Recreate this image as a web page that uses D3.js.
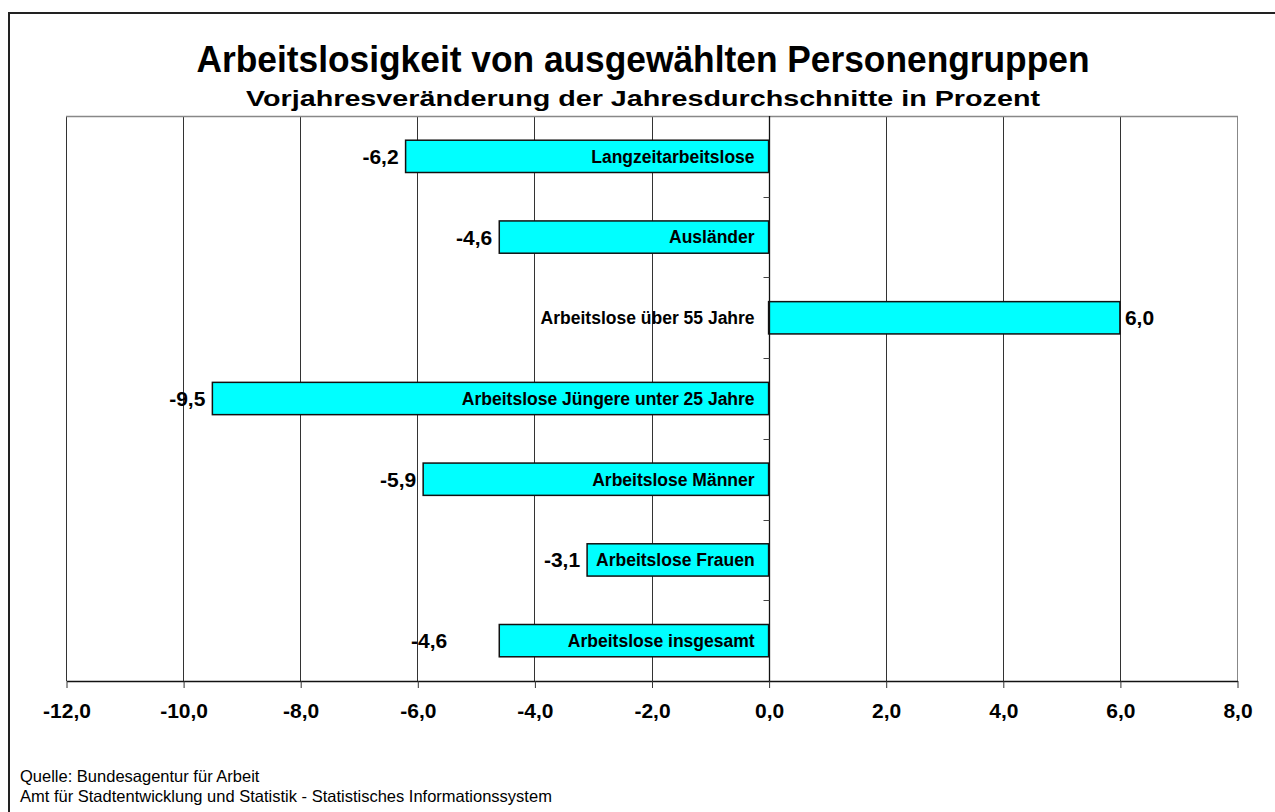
<!DOCTYPE html>
<html>
<head>
<meta charset="utf-8">
<script src="https://cdn.jsdelivr.net/npm/d3@7"></script>
<style>
  body { margin: 0; background: #fff; }
  svg { display: block; font-family: "Liberation Sans", Arial, sans-serif; }
</style>
</head>
<body>
<svg id="chart" width="1275" height="812"></svg>
<script>
// categories top to bottom, values = change vs previous year in percent
const categories = [
  'Langzeitarbeitslose',
  'Ausländer',
  'Arbeitslose über 55 Jahre',
  'Arbeitslose Jüngere unter 25 Jahre',
  'Arbeitslose Männer',
  'Arbeitslose Frauen',
  'Arbeitslose insgesamt'
];
const values = [-6.2, -4.6, 6.0, -9.5, -5.9, -3.1, -4.6];
const xTicks = [-12, -10, -8, -6, -4, -2, 0, 2, 4, 6, 8];

const title = 'Arbeitslosigkeit von ausgewählten Personengruppen';
const subtitle = 'Vorjahresveränderung der Jahresdurchschnitte in Prozent';
const footer = [
  'Quelle: Bundesagentur für Arbeit',
  'Amt für Stadtentwicklung und Statistik - Statistisches Informationssystem'
];

const fmt = v => d3.format('.1f')(v).replace('.', ',').replace('−', '-');

const svg = d3.select('#chart');
const m = { left: 66, right: 1237, top: 116, bottom: 681 };

// outer frame
svg.append('path')
  .attr('d', 'M9,813 V13 H1276')
  .attr('fill', 'none')
  .attr('stroke', '#222')
  .attr('stroke-width', 2);

svg.append('text')
  .attr('x', 643).attr('y', 72)
  .attr('text-anchor', 'middle')
  .attr('font-size', 36).attr('font-weight', 'bold')
  .attr('textLength', 893).attr('lengthAdjust', 'spacingAndGlyphs')
  .text(title);
svg.append('text')
  .attr('x', 643).attr('y', 106)
  .attr('text-anchor', 'middle')
  .attr('font-size', 22).attr('font-weight', 'bold')
  .attr('textLength', 794).attr('lengthAdjust', 'spacingAndGlyphs')
  .text(subtitle);

const x = d3.scaleLinear().domain([-12, 8]).range([m.left, m.right]);
const y = d3.scaleBand().domain(categories).range([m.top, m.bottom]).paddingInner(0.6).paddingOuter(0.3);
const yb = d3.scaleBand().domain(categories).range([m.top, m.bottom]);

// gridlines
svg.append('g')
  .selectAll('line')
  .data(xTicks)
  .join('line')
  .attr('x1', d => Math.round(x(d)) + 0.5).attr('x2', d => Math.round(x(d)) + 0.5)
  .attr('y1', m.top).attr('y2', m.bottom)
  .attr('stroke', d => d === 8 ? '#888' : '#333')
  .attr('stroke-width', 1);

// top plot border
svg.append('line')
  .attr('x1', m.left).attr('x2', Math.round(x(8)) + 1)
  .attr('y1', m.top + 0.5).attr('y2', m.top + 0.5)
  .attr('stroke', '#888').attr('stroke-width', 1.5);

// bottom axis
const xAxis = svg.append('g')
  .attr('transform', `translate(0.5,${m.bottom})`)
  .call(d3.axisBottom(x).tickValues(xTicks).tickFormat(fmt).tickSize(7).tickSizeOuter(0));
xAxis.select('.domain').attr('stroke', '#111').attr('stroke-width', 1.3);
xAxis.selectAll('line').attr('stroke', '#333');
xAxis.selectAll('text')
  .attr('font-family', '"Liberation Sans", Arial, sans-serif')
  .attr('font-size', 21).attr('font-weight', 'bold')
  .attr('fill', '#000')
  .attr('y', 37).attr('dy', 0);

// bars
const bars = svg.append('g');
bars.selectAll('rect')
  .data(categories)
  .join('rect')
  .attr('x', (d, i) => x(Math.min(0, values[i])))
  .attr('y', d => y(d))
  .attr('width', (d, i) => Math.abs(x(values[i]) - x(0)))
  .attr('height', y.bandwidth())
  .attr('fill', '#00ffff')
  .attr('stroke', '#111')
  .attr('stroke-width', 1.5);

// zero axis with category ticks
const zx = Math.round(x(0)) + 0.5;
svg.append('line')
  .attr('x1', zx).attr('x2', zx)
  .attr('y1', m.top).attr('y2', m.bottom)
  .attr('stroke', '#111').attr('stroke-width', 1.3);
svg.append('g')
  .selectAll('line')
  .data(categories.slice(1))
  .join('line')
  .attr('x1', zx - 6).attr('x2', zx)
  .attr('y1', d => Math.round(yb(d)) + 0.5).attr('y2', d => Math.round(yb(d)) + 0.5)
  .attr('stroke', '#444');

// category labels, just left of zero line
svg.append('g')
  .selectAll('text')
  .data(categories)
  .join('text')
  .attr('x', x(0) - 14)
  .attr('y', d => y(d) + y.bandwidth() / 2)
  .attr('dy', '0.36em')
  .attr('text-anchor', 'end')
  .attr('font-size', 17.5).attr('font-weight', 'bold')
  .text(d => d);

// value labels
const labelNudge = { 'Arbeitslose insgesamt': -45 };
svg.append('g')
  .selectAll('text')
  .data(categories)
  .join('text')
  .attr('x', (d, i) => x(values[i]) + (values[i] < 0 ? -7 : 5) + (labelNudge[d] || 0))
  .attr('y', d => y(d) + y.bandwidth() / 2)
  .attr('dy', '0.36em')
  .attr('text-anchor', (d, i) => values[i] < 0 ? 'end' : 'start')
  .attr('font-size', 21).attr('font-weight', 'bold')
  .text((d, i) => fmt(values[i]));

// footer
svg.append('g')
  .selectAll('text')
  .data(footer)
  .join('text')
  .attr('x', 20)
  .attr('y', (d, i) => 782 + i * 20)
  .attr('font-size', 16.5)
  .text(d => d);
</script>
</body>
</html>
